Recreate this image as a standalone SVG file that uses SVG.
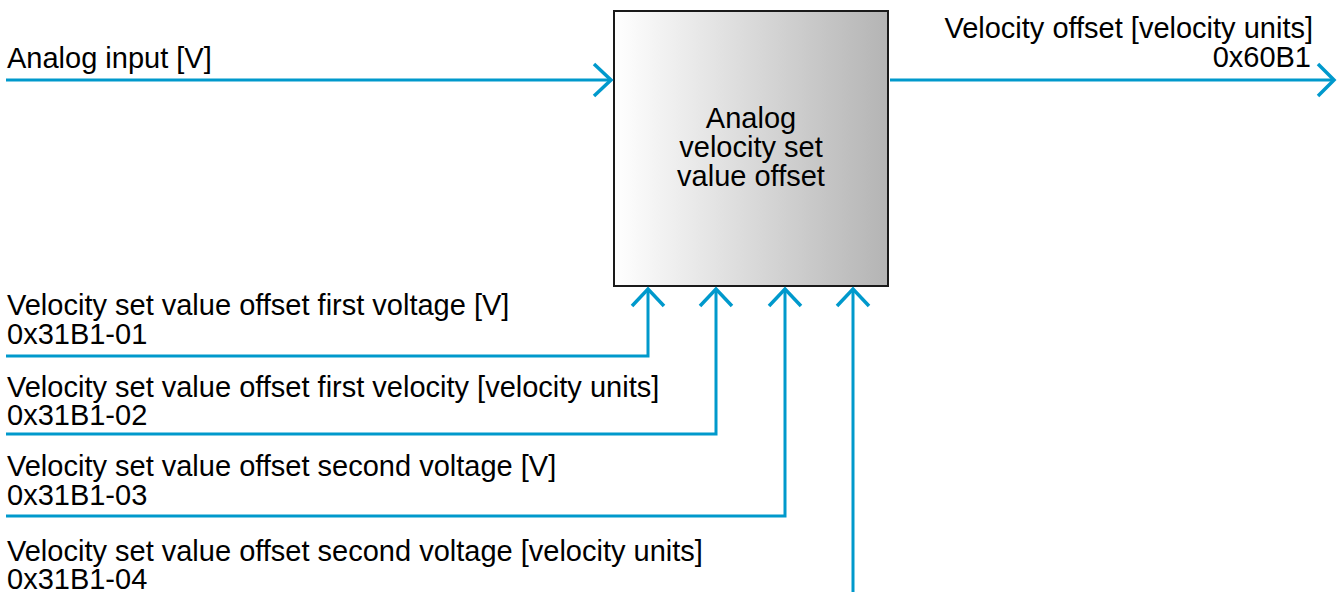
<svg xmlns="http://www.w3.org/2000/svg" width="1338" height="592" viewBox="0 0 1338 592">
<defs>
<linearGradient id="g" x1="0" y1="0" x2="1" y2="0">
<stop offset="0" stop-color="#ffffff"/>
<stop offset="1" stop-color="#b4b4b4"/>
</linearGradient>
<style>
.ln{fill:none;stroke:#0099cc;stroke-width:3}
.ah{fill:none;stroke:#0099cc;stroke-width:3.5}
text{font-family:"Liberation Sans",Arial,sans-serif;font-size:29px;fill:#000}
.c{text-anchor:middle}
.r{text-anchor:end}
</style>
</defs>
<g id="block">
<rect x="614" y="11" width="274" height="275" fill="url(#g)" stroke="#1a1a1a" stroke-width="2"/>
<text class="c" x="751" y="128">Analog</text>
<text class="c" x="751" y="157">velocity set</text>
<text class="c" x="751" y="186">value offset</text>
</g>
<g id="connectors">
<path class="ln" d="M6 80 H611"/>
<path class="ah" d="M594 64 L611 80 L594 96"/>
<path class="ln" d="M890 80 H1334"/>
<path class="ah" d="M1318 64 L1334 80 L1318 96"/>
<path class="ln" d="M6 356 H648 V289"/>
<path class="ah" d="M632 306 L648 289 L664 306"/>
<path class="ln" d="M6 434 H716 V289"/>
<path class="ah" d="M700 306 L716 289 L732 306"/>
<path class="ln" d="M6 516 H785 V289"/>
<path class="ah" d="M769 306 L785 289 L801 306"/>
<path class="ln" d="M853 592 V289"/>
<path class="ah" d="M837 306 L853 289 L869 306"/>
</g>
<g id="labels">
<text x="7" y="68">Analog input [V]</text>
<text class="r" x="1313" y="38">Velocity offset [velocity units]</text>
<text class="r" x="1311" y="67">0x60B1</text>
<text x="7" y="315">Velocity set value offset first voltage [V]</text>
<text x="7" y="344">0x31B1-01</text>
<text x="7" y="397">Velocity set value offset first velocity [velocity units]</text>
<text x="7" y="425">0x31B1-02</text>
<text x="7" y="476">Velocity set value offset second voltage [V]</text>
<text x="7" y="505">0x31B1-03</text>
<text x="7" y="561">Velocity set value offset second voltage [velocity units]</text>
<text x="7" y="589">0x31B1-04</text>
</g>
</svg>
